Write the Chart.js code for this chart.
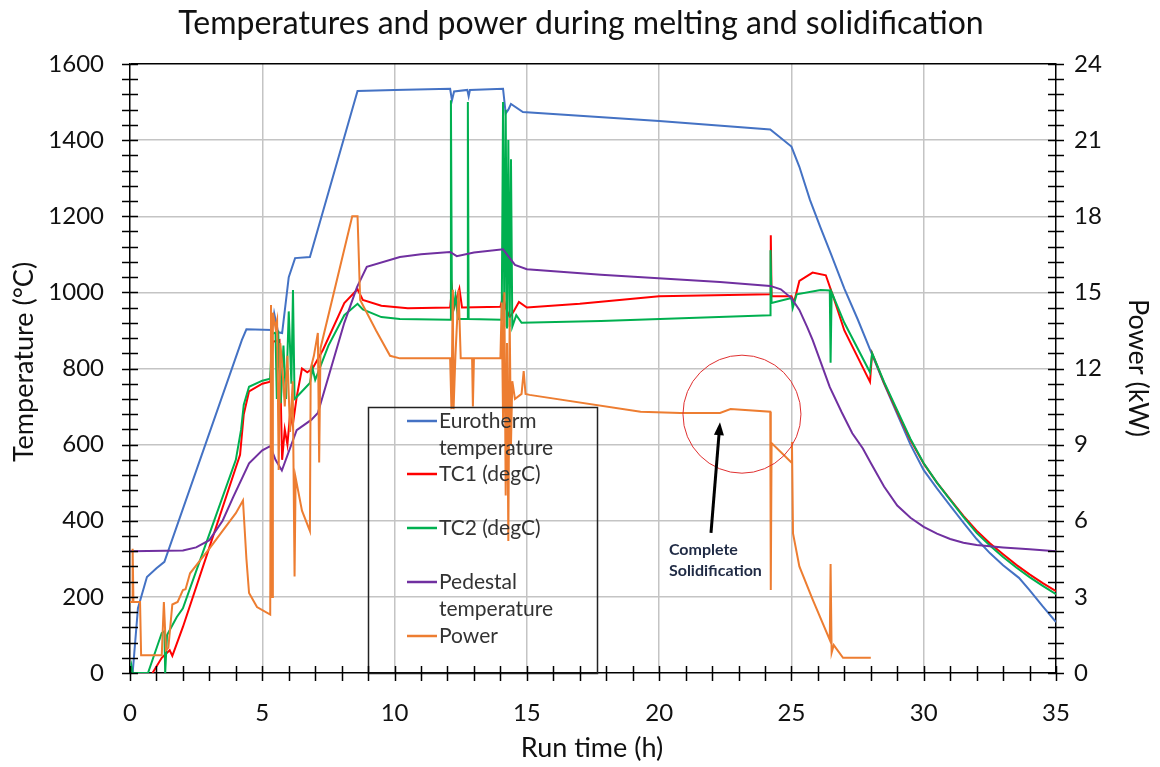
<!DOCTYPE html>
<html>
<head>
<meta charset="utf-8">
<script src="https://cdn.jsdelivr.net/npm/chart.js@4.4.1/dist/chart.umd.min.js"></script>
<style>
  html, body { margin: 0; padding: 0; background: #fff; }
  #c { display: block; }
</style>
</head>
<body>
<canvas id="c" width="1160" height="767"></canvas>
<script>
// values (time in h, temperature in degC, power in kW)
const eurothermTime = [0.1, 0.3, 0.64, 1.0, 1.3, 4.23, 4.4, 5.37, 5.45, 5.6, 5.75, 6.0, 6.24, 6.8, 8.6, 10, 12.1, 12.17, 12.25, 12.75, 12.8, 12.85, 14.1, 14.2, 14.3, 14.4, 14.85, 20, 24.2, 25.0, 25.3, 25.7, 26.1, 26.5, 27.0, 27.5, 28.0, 28.5, 29.0, 29.5, 30, 30.5, 31, 31.5, 32, 32.5, 33, 33.6, 34.0, 34.5, 35];
const eurothermTemp = [0, 170, 252, 275, 292, 875, 903, 901, 945, 895, 893, 1040, 1090, 1093, 1529, 1532, 1535, 1505, 1528, 1532, 1515, 1532, 1535, 1470, 1480, 1495, 1474, 1450, 1428, 1383, 1330, 1243, 1170, 1100, 1010, 930, 845, 760, 680, 600, 533, 485, 440, 395, 352, 315, 283, 250, 218, 175, 134];

const tc1Time = [0.85, 1.2, 1.5, 1.6, 2.0, 3.0, 4.0, 4.16, 4.3, 4.5, 5.0, 5.3, 5.4, 5.65, 5.75, 5.85, 5.95, 6.05, 6.15, 6.3, 6.5, 6.7, 6.9, 7.3, 8.1, 8.6, 8.8, 9.5, 10.5, 12.1, 12.17, 12.25, 12.45, 12.55, 14.0, 14.1, 14.2, 14.35, 14.5, 14.7, 15, 17, 20, 24.2, 24.22, 24.25, 25.0, 25.1, 25.3, 25.8, 26.3, 26.6, 27.0, 27.97, 28.05, 28.5, 29, 29.5, 30, 30.5, 31, 31.5, 32, 32.5, 33, 33.5, 34, 34.5, 35];
const tc1Temp = [0, 40, 60, 45, 121, 330, 540, 573, 680, 740, 760, 765, 870, 875, 560, 640, 600, 680, 650, 725, 800, 790, 800, 850, 972, 1008, 980, 965, 958, 960, 1010, 960, 1010, 960, 962, 990, 960, 935, 950, 975, 960, 970, 990, 995, 1150, 990, 990, 975, 1030, 1052, 1045, 985, 900, 765, 840, 762, 686, 612, 550, 500, 456, 413, 374, 341, 312, 284, 259, 236, 215];

const tc2Time = [0, 0.05, 0.1, 0.68, 1.2, 1.3, 1.33, 1.4, 1.77, 2.0, 3.0, 4.0, 4.2, 4.3, 4.5, 5.0, 5.3, 5.37, 5.5, 5.55, 5.6, 5.7, 5.8, 5.9, 6.0, 6.1, 6.16, 6.22, 6.3, 6.8, 6.9, 7.0, 7.5, 8.1, 8.6, 8.8, 9.5, 10.2, 12.1, 12.13, 12.17, 12.3, 12.4, 12.75, 12.77, 12.8, 14.05, 14.1, 14.15, 14.2, 14.25, 14.3, 14.35, 14.4, 14.45, 14.6, 14.8, 17.8, 24.2, 24.21, 24.25, 25.0, 25.05, 25.2, 26.1, 26.45, 26.48, 26.52, 27.0, 27.97, 28.05, 28.5, 29, 29.5, 30, 30.5, 31, 31.5, 32, 32.5, 33, 33.5, 34, 34.5, 35];
const tc2Temp = [0, 20, 0, 0, 105, 110, 0, 100, 147, 170, 365, 560, 640, 705, 752, 768, 773, 890, 895, 720, 900, 709, 860, 720, 950, 760, 1006, 720, 725, 762, 800, 770, 860, 940, 970, 955, 935, 930, 928, 1505, 930, 990, 930, 930, 1500, 930, 928, 1500, 910, 1480, 905, 1400, 910, 1350, 910, 940, 920, 925, 940, 1111, 972, 985, 959, 995, 1006, 1005, 815, 1000, 920, 790, 840, 765, 690, 615, 551, 500, 455, 410, 368, 335, 305, 277, 252, 229, 207];

const pedestalTime = [0, 2.0, 2.5, 3.0, 3.5, 3.9, 4.5, 5.0, 5.3, 5.5, 5.74, 6.3, 6.85, 7.1, 8.1, 8.58, 8.95, 10.2, 11, 12.1, 12.35, 13, 14.1, 14.55, 15, 17.8, 22.3, 24.2, 24.6, 25.0, 25.3, 25.6, 25.8, 26.1, 26.45, 26.9, 27.3, 27.7, 28, 28.5, 29, 29.5, 30, 30.5, 31, 31.5, 32, 33, 34, 35];
const pedestalTemp = [320, 322, 330, 349, 400, 462, 551, 585, 596, 560, 532, 638, 665, 683, 920, 1014, 1067, 1093, 1100, 1106, 1095, 1105, 1113, 1072, 1061, 1046, 1027, 1017, 1008, 985, 954, 908, 875, 818, 751, 685, 630, 590, 552, 490, 440, 408, 384, 366, 352, 342, 336, 330, 325, 320];

const powerTime = [0, 0.08, 0.1, 0.13, 0.38, 0.42, 1.2, 1.28, 1.36, 1.45, 1.6, 1.8, 2.0, 2.1, 2.27, 3.0, 3.5, 4.0, 4.27, 4.4, 4.5, 4.8, 5.3, 5.33, 5.37, 5.40, 5.50, 5.56, 5.62, 5.68, 5.75, 5.85, 5.95, 6.05, 6.15, 6.22, 6.26, 6.5, 6.8, 6.83, 6.95, 7.1, 7.15, 7.2, 8.4, 8.6, 8.7, 9.3, 9.83, 10.2, 12.1, 12.15, 12.2, 12.23, 12.3, 12.42, 12.5, 12.93, 12.96, 13.0, 14.0, 14.05, 14.1, 14.15, 14.2, 14.25, 14.3, 14.35, 14.4, 14.45, 14.55, 14.8, 14.88, 14.95, 15.1, 19.3, 20.8, 22.3, 22.7, 24.2, 24.22, 24.25, 25.0, 25.02, 25.06, 25.3, 25.8, 26.45, 26.48, 26.52, 26.6, 26.95, 28.0];
const powerKW = [2.8, 2.8, 4.9, 2.8, 2.8, 0.7, 0.7, 2.8, 0.9, 1.0, 2.7, 2.8, 3.27, 3.3, 3.93, 4.9, 5.6, 6.3, 6.8, 4.5, 3.15, 2.6, 2.3, 14.5, 3.0, 14.2, 13.6, 13.9, 8.0, 13.0, 12.2, 10.5, 12.5, 9.5, 11.5, 3.8, 7.7, 6.4, 5.6, 12.0, 12.5, 13.4, 8.3, 12.8, 18.0, 18.0, 14.7, 13.5, 12.5, 12.4, 12.4, 10.4, 15.1, 10.4, 12.5, 15.1, 12.4, 12.4, 10.5, 12.4, 12.4, 14.6, 10.0, 15.0, 7.0, 13.0, 5.2, 14.0, 9.0, 11.5, 10.8, 11.0, 11.9, 11.0, 10.96, 10.3, 10.25, 10.25, 10.4, 10.3, 3.27, 9.06, 8.3, 9.1, 5.5, 4.2, 2.9, 1.3, 4.3, 0.8, 1.1, 0.6, 0.6];

const seriesNames = ['Eurotherm temperature', 'TC1 (degC)', 'TC2 (degC)', 'Pedestal temperature', 'Power'];
const seriesColors = ['#4472c4', '#ff0000', '#00b050', '#7030a0', '#ed7d31'];

const FONT = 'Lato, "Open Sans", sans-serif';

function pts(xs, ys) {
  return xs.map((x, i) => ({ x: x, y: ys[i] }));
}

function lineSet(i, data, axis, order) {
  return {
    label: seriesNames[i],
    data: data,
    yAxisID: axis,
    borderColor: seriesColors[i],
    backgroundColor: seriesColors[i],
    borderWidth: 2,
    pointRadius: 0,
    tension: 0,
    order: order
  };
}

// white page, title, axis titles, crossing tick marks
const decorations = {
  id: 'decorations',
  beforeDraw(chart) {
    const ctx = chart.ctx;
    ctx.save();
    ctx.fillStyle = '#fff';
    ctx.fillRect(0, 0, chart.width, chart.height);
    ctx.restore();
  },
  afterDraw(chart) {
    const ctx = chart.ctx;
    const a = chart.chartArea;
    const sx = chart.scales.x, sy = chart.scales.y;
    ctx.save();
    ctx.strokeStyle = '#000';
    ctx.lineWidth = 1.5;
    ctx.beginPath();
    for (let v = 0; v <= 1600; v += 40) {
      const py = Math.round(sy.getPixelForValue(v)) + 0.5;
      ctx.moveTo(a.left - 8, py); ctx.lineTo(a.left + 8, py);
      ctx.moveTo(a.right - 8, py); ctx.lineTo(a.right + 8, py);
    }
    for (let t = 0; t <= 35; t += 1) {
      const px = Math.round(sx.getPixelForValue(t)) + 0.5;
      ctx.moveTo(px, a.bottom - 7); ctx.lineTo(px, a.bottom + 8);
    }
    ctx.stroke();

    ctx.fillStyle = '#111';
    ctx.textAlign = 'center';
    ctx.textBaseline = 'middle';
    ctx.font = '32px ' + FONT;
    ctx.fillText('Temperatures and power during melting and solidification', 581, 24);

    ctx.font = '27px ' + FONT;
    ctx.fillText('Run time (h)', 592, 748);
    ctx.translate(24, 362);
    ctx.rotate(-Math.PI / 2);
    ctx.fillText('Temperature (°C)', 0, 0);
    ctx.restore();

    ctx.save();
    ctx.fillStyle = '#111';
    ctx.textAlign = 'center';
    ctx.textBaseline = 'middle';
    ctx.font = '27px ' + FONT;
    ctx.translate(1138, 368);
    ctx.rotate(Math.PI / 2);
    ctx.fillText('Power (kW)', 0, 0);
    ctx.restore();
  }
};

// boxed legend over the plot, as in the picture
const legendBox = {
  id: 'legendBox',
  afterDatasetsDraw(chart) {
    const ctx = chart.ctx;
    const rows = [
      { lines: ['Eurotherm', 'temperature'], y: 421 },
      { lines: ['TC1 (degC)'], y: 474 },
      { lines: ['TC2 (degC)'], y: 528 },
      { lines: ['Pedestal', 'temperature'], y: 582 },
      { lines: ['Power'], y: 636 }
    ];
    ctx.save();
    ctx.strokeStyle = '#222';
    ctx.lineWidth = 1.5;
    ctx.strokeRect(368.5, 407.5, 229, 266);
    ctx.font = '21px ' + FONT;
    ctx.textBaseline = 'middle';
    ctx.textAlign = 'left';
    rows.forEach((r, i) => {
      ctx.strokeStyle = seriesColors[i];
      ctx.lineWidth = 2.5;
      ctx.beginPath();
      ctx.moveTo(407, r.y); ctx.lineTo(437, r.y);
      ctx.stroke();
      ctx.fillStyle = '#333';
      r.lines.forEach((t, k) => ctx.fillText(t, 439, r.y + k * 27));
    });
    ctx.restore();
  }
};

// red circle, arrow and note "Complete Solidification"
const note = {
  id: 'note',
  afterDatasetsDraw(chart) {
    const ctx = chart.ctx;
    const sx = chart.scales.x, sy = chart.scales.y;
    const cx = sx.getPixelForValue(23.13), cy = sy.getPixelForValue(680);
    ctx.save();
    ctx.strokeStyle = '#e03030';
    ctx.lineWidth = 1;
    ctx.beginPath();
    ctx.arc(cx, cy, 59, 0, Math.PI * 2);
    ctx.stroke();

    const x0 = sx.getPixelForValue(21.96), y0 = sy.getPixelForValue(368);
    const x1 = sx.getPixelForValue(22.3), y1 = sy.getPixelForValue(659);
    const ang = Math.atan2(y1 - y0, x1 - x0);
    ctx.strokeStyle = '#000';
    ctx.fillStyle = '#000';
    ctx.lineWidth = 3;
    ctx.beginPath();
    ctx.moveTo(x0, y0);
    ctx.lineTo(x1 - 8 * Math.cos(ang), y1 - 8 * Math.sin(ang));
    ctx.stroke();
    ctx.beginPath();
    ctx.moveTo(x1, y1);
    ctx.lineTo(x1 - 13 * Math.cos(ang) + 5 * Math.sin(ang), y1 - 13 * Math.sin(ang) - 5 * Math.cos(ang));
    ctx.lineTo(x1 - 13 * Math.cos(ang) - 5 * Math.sin(ang), y1 - 13 * Math.sin(ang) + 5 * Math.cos(ang));
    ctx.closePath();
    ctx.fill();

    ctx.fillStyle = '#1f2a44';
    ctx.font = 'bold 16px ' + FONT;
    ctx.textAlign = 'left';
    ctx.textBaseline = 'middle';
    const tx = sx.getPixelForValue(20.37);
    ctx.fillText('Complete', tx, sy.getPixelForValue(323));
    ctx.fillText('Solidification', tx, sy.getPixelForValue(268));
    ctx.restore();
  }
};

const gridGray = '#c4c4c4';
const plain = (v) => String(v);

new Chart(document.getElementById('c'), {
  type: 'line',
  data: {
    datasets: [
      lineSet(0, pts(eurothermTime, eurothermTemp), 'y', 5),
      lineSet(1, pts(tc1Time, tc1Temp), 'y', 4),
      lineSet(2, pts(tc2Time, tc2Temp), 'y', 3),
      lineSet(3, pts(pedestalTime, pedestalTemp), 'y', 2),
      lineSet(4, pts(powerTime, powerKW), 'y1', 1)
    ]
  },
  options: {
    responsive: false,
    animation: false,
    devicePixelRatio: 1,
    layout: { padding: { top: 64, left: 0, right: 0, bottom: 0 } },
    plugins: {
      legend: { display: false },
      tooltip: { enabled: false }
    },
    scales: {
      x: {
        type: 'linear',
        min: 0, max: 35,
        afterFit: (s) => { s.height = 94; },
        ticks: { stepSize: 5, padding: 26, color: '#111', font: { family: FONT, size: 24 }, callback: plain },
        grid: {
          drawTicks: false,
          lineWidth: 1.5,
          color: (c) => (c.tick.value === 0 || c.tick.value === 35) ? 'rgba(0,0,0,0)' : gridGray
        },
        border: { display: true, color: '#000', width: 1.5 }
      },
      y: {
        position: 'left',
        min: 0, max: 1600,
        afterFit: (s) => { s.width = 130; },
        ticks: { stepSize: 200, padding: 26, color: '#111', font: { family: FONT, size: 24 }, callback: plain },
        grid: {
          drawTicks: false,
          lineWidth: 1.5,
          color: (c) => c.tick.value === 1600 ? '#000' : (c.tick.value === 0 ? 'rgba(0,0,0,0)' : gridGray)
        },
        border: { display: true, color: '#000', width: 1.5 }
      },
      y1: {
        position: 'right',
        min: 0, max: 24,
        afterFit: (s) => { s.width = 104; },
        ticks: { stepSize: 3, padding: 18, color: '#111', font: { family: FONT, size: 24 }, callback: plain },
        grid: { display: false, drawTicks: false },
        border: { display: true, color: '#000', width: 1.5 }
      }
    }
  },
  plugins: [decorations, legendBox, note]
});
</script>
</body>
</html>
